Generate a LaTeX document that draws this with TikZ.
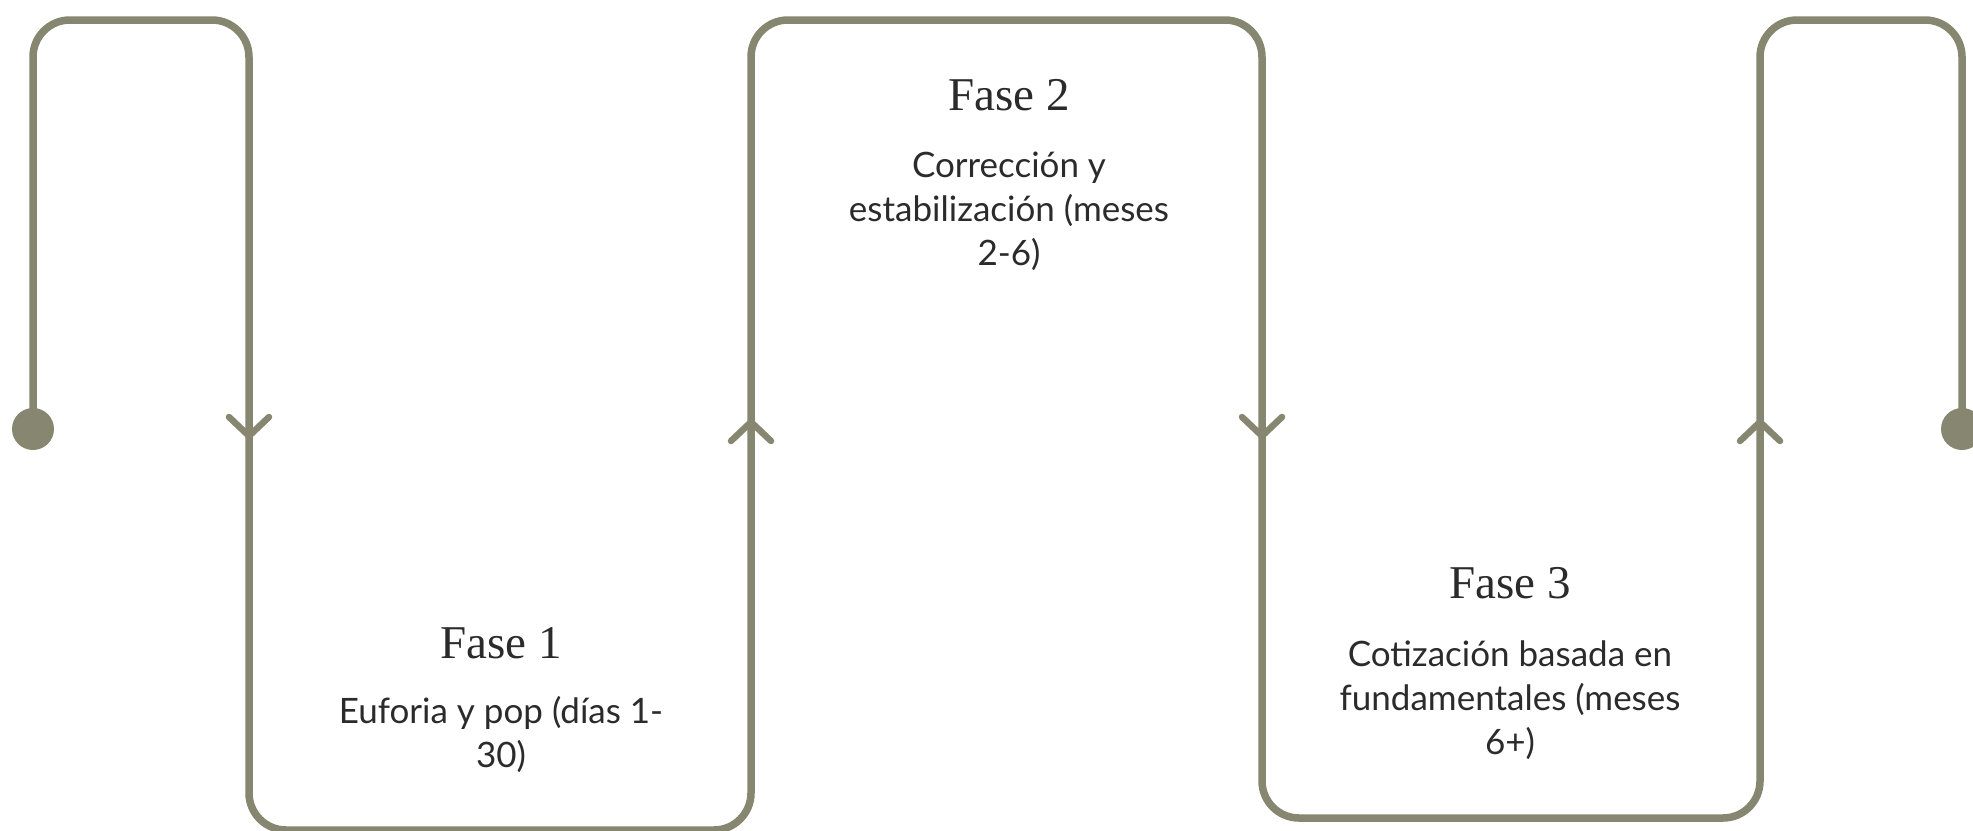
\documentclass[tikz,border=0pt]{standalone}
\usepackage{fontspec}
\setmainfont{Liberation Serif}
\newfontfamily\bodyfont{Lato}
\usetikzlibrary{calc}
\definecolor{lineol}{HTML}{878670}
\definecolor{txt}{HTML}{2B2B2B}
\tikzset{
  flow/.style={draw=lineol, line width=7.5pt, rounded corners=37pt},
  chev/.style={draw=lineol, line width=6.5pt, line cap=round, line join=round},
  dot/.style={circle, fill=lineol, minimum size=42pt, inner sep=0pt},
  head/.style={font=\fontsize{47}{54}\selectfont, text=txt, inner sep=0pt},
  body/.style={font=\bodyfont\fontsize{35}{44}\selectfont, text=txt, align=center, inner sep=0pt}
}
\begin{document}
\begin{tikzpicture}[x=1pt,y=-1pt]
\useasboundingbox[fill=white] (0,0) rectangle (1973,830);
% corners of the path
\coordinate (c1) at (33,20);
\coordinate (c2) at (249,20);
\coordinate (c3) at (249,830);
\coordinate (c4) at (751,830);
\coordinate (c5) at (751,20);
\coordinate (c6) at (1262,20);
\coordinate (c7) at (1262,818);
\coordinate (c8) at (1760,818);
\coordinate (c9) at (1760,20);
\coordinate (c10) at (1962,20);
\node[dot] (dotL) at (33,429) {};
\node[dot] (dotR) at (1962,429) {};
\draw[flow] (dotL.center) -- (c1) -- (c2) -- (c3) -- (c4) -- (c5) -- (c6) -- (c7) -- (c8) -- (c9) -- (c10) -- (dotR.center);
% chevrons
\coordinate (a1) at (249,436);
\coordinate (a2) at (751,422);
\coordinate (a3) at (1262,436);
\coordinate (a4) at (1760,422);
\draw[chev] ($(a1)+(-20,-19)$) -- (a1) -- ($(a1)+(20,-19)$);
\draw[chev] ($(a2)+(-20,19)$) -- (a2) -- ($(a2)+(20,19)$);
\draw[chev] ($(a3)+(-20,-19)$) -- (a3) -- ($(a3)+(20,-19)$);
\draw[chev] ($(a4)+(-20,19)$) -- (a4) -- ($(a4)+(20,19)$);
% texts
\node[head, anchor=base] (h1) at (501,658) {Fase 1};
\node[body, anchor=base] (b1) at (501,767) {Euforia y pop (días 1-\\30)};
\node[head, anchor=base] (h2) at (1009,110) {Fase 2};
\node[body, anchor=base] (b2) at (1009,265) {Corrección y\\estabilización (meses\\2-6)};
\node[head, anchor=base] (h3) at (1510,598) {Fase 3};
\node[body, anchor=base] (b3) at (1510,754) {Cotización basada en\\fundamentales (meses\\6+)};
\end{tikzpicture}
\end{document}
